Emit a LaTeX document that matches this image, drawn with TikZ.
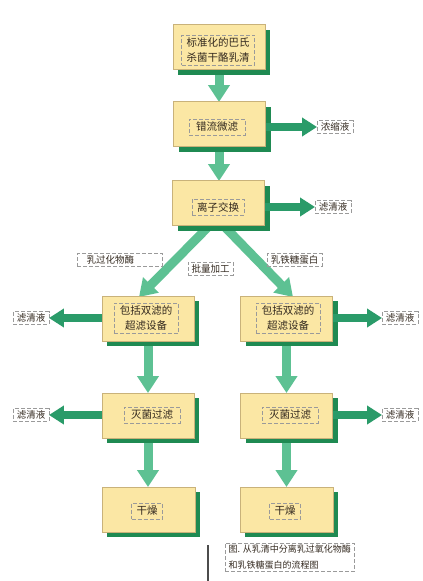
\documentclass[tikz,border=0pt]{standalone}
\usepackage{fontspec}
\setmainfont{Noto Sans CJK SC}
\usetikzlibrary{arrows.meta,shadows}
\definecolor{boxfill}{HTML}{FBE7A4}
\definecolor{boxline}{HTML}{C9B27A}
\definecolor{shgreen}{HTML}{1F8A52}
\definecolor{mint}{HTML}{5DC193}
\definecolor{dkgreen}{HTML}{2A9B69}
\definecolor{txt}{HTML}{33291F}
\definecolor{frame}{HTML}{9A9A9A}
\tikzset{
  box/.style={draw=boxline, line width=0.6pt, fill=boxfill, minimum width=92pt, minimum height=45pt,
    drop shadow={shadow xshift=5pt, shadow yshift=-5pt, fill=shgreen, opacity=1}},
  tframe/.style={draw=frame, line width=0.4pt, dash pattern=on 4pt off 2pt, text=txt,
    font=\fontsize{10.5}{14.5}\selectfont, inner xsep=5pt, inner ysep=3pt, align=center},
  lframe/.style={draw=frame, line width=0.4pt, dash pattern=on 4pt off 2pt, text=txt,
    font=\fontsize{9.5}{11}\selectfont, inner xsep=3.5pt, inner ysep=2pt},
  mintarrow/.style={draw=mint, line width=9pt, -{Triangle[width=21pt,length=17pt]}},
  darkarrow/.style={draw=dkgreen, line width=8pt, -{Triangle[width=18pt,length=15pt]}},
}
\begin{document}
\begin{tikzpicture}[x=1pt,y=-1pt]
\useasboundingbox (0,0) rectangle (423,581);
% boxes centres
\coordinate (c1) at (219,47);
\coordinate (c2) at (219.5,124);
\coordinate (c3) at (218.5,203);
\coordinate (c4l) at (148,318.5);
\coordinate (c4r) at (286.5,318.5);
\coordinate (c5l) at (148,415.5);
\coordinate (c5r) at (286.5,415.5);
\coordinate (c6l) at (148.5,509.5);
\coordinate (c6r) at (286.5,509.5);
% vertical and diagonal arrows (behind boxes)
\coordinate (a1s) at (219,68);
\coordinate (a1e) at (219,102);
\coordinate (a2s) at (219,144);
\coordinate (a2e) at (219,181);
\coordinate (dls) at (212,223);
\coordinate (dle) at (139,297);
\coordinate (drs) at (221,223);
\coordinate (dre) at (293,297);
\coordinate (v1ls) at (148,338);
\coordinate (v1le) at (148,393);
\coordinate (v1rs) at (286.5,338);
\coordinate (v1re) at (286.5,393);
\coordinate (v2ls) at (148,436);
\coordinate (v2le) at (148,487);
\coordinate (v2rs) at (286.5,436);
\coordinate (v2re) at (286.5,487);
\draw[mintarrow] (a1s) -- (a1e);
\draw[mintarrow] (a2s) -- (a2e);
\draw[mintarrow] (dls) -- (dle);
\draw[mintarrow] (drs) -- (dre);
\draw[mintarrow] (v1ls) -- (v1le);
\draw[mintarrow] (v1rs) -- (v1re);
\draw[mintarrow] (v2ls) -- (v2le);
\draw[mintarrow] (v2rs) -- (v2re);
% boxes
\node[box] (b1) at (c1) {};
\node[box] (b2) at (c2) {};
\node[box] (b3) at (c3) {};
\node[box] (b4l) at (c4l) {};
\node[box] (b4r) at (c4r) {};
\node[box] (b5l) at (c5l) {};
\node[box] (b5r) at (c5r) {};
\node[box, minimum width=93pt] (b6l) at (c6l) {};
\node[box, minimum width=93pt] (b6r) at (c6r) {};
% box texts
\node[tframe] (t1) at (218,50) {标准化的巴氏\\杀菌干酪乳清};
\node[tframe, inner xsep=7pt] (t2) at (217,127) {错流微滤};
\node[tframe] (t3) at (218,207) {离子交换};
\node[tframe, inner xsep=6pt] (t4l) at (146,318) {包括双滤的\\超滤设备};
\node[tframe, inner xsep=6pt] (t4r) at (288,318) {包括双滤的\\超滤设备};
\node[tframe, inner xsep=7pt] (t5l) at (152,415) {灭菌过滤};
\node[tframe, inner xsep=7pt] (t5r) at (290,415) {灭菌过滤};
\node[tframe] (t6l) at (147,511) {干燥};
\node[tframe] (t6r) at (285,511) {干燥};
% side labels
\node[lframe] (l2) at (335,127) {浓缩液};
\node[lframe] (l3) at (333,207) {滤清液};
\node[lframe] (l4l) at (31,318) {滤清液};
\node[lframe] (l4r) at (400,318) {滤清液};
\node[lframe] (l5l) at (31,415) {滤清液};
\node[lframe] (l5r) at (400,415) {滤清液};
% side arrows
\draw[darkarrow] (b2.east |- l2) -- (l2.west);
\draw[darkarrow] (b3.east |- l3) -- (l3.west);
\draw[darkarrow] (b4l.west |- l4l) -- (l4l.east);
\draw[darkarrow] (b4r.east |- l4r) -- (l4r.west);
\draw[darkarrow] (b5l.west |- l5l) -- (l5l.east);
\draw[darkarrow] (b5r.east |- l5r) -- (l5r.west);
% branch labels
\node[lframe, minimum width=85pt, text width=74pt, align=left] (lp) at (119.5,260) {\hspace*{4pt}乳过化物酶};
\node[lframe] (lb) at (210.5,268.5) {批量加工};
\node[lframe] (ll) at (294.5,260) {乳铁糖蛋白};
% caption
\coordinate (vt) at (208,545);
\coordinate (vb) at (208,581);
\draw[draw=black!70, line width=1.2pt] (vt) -- (vb);
\node[lframe, anchor=north west, align=left, font=\fontsize{9}{16}\selectfont, inner ysep=2pt] (cap) at (225,543) {图. 从乳清中分离乳过氧化物酶\\和乳铁糖蛋白的流程图};
\end{tikzpicture}
\end{document}
